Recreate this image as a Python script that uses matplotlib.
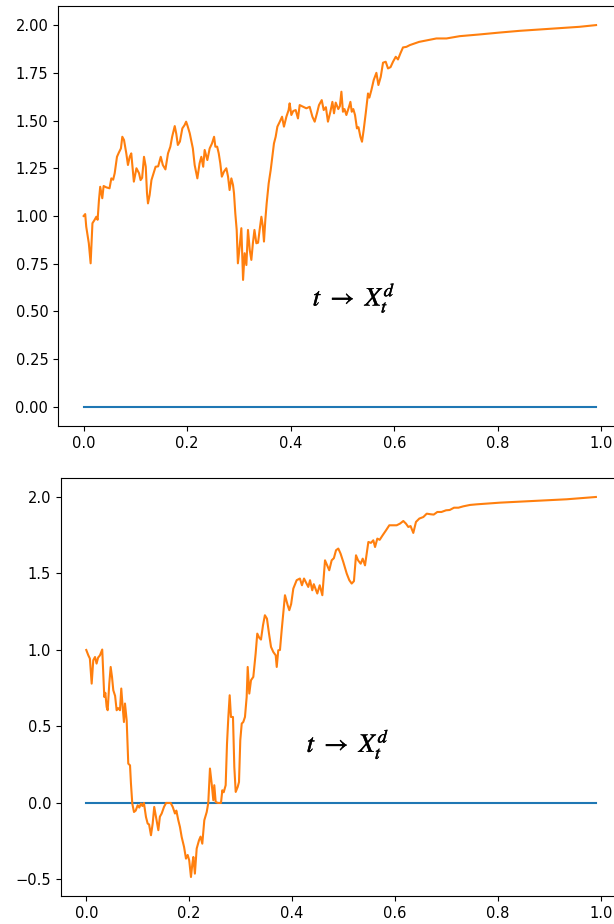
import numpy as np
import matplotlib.pyplot as plt
import matplotlib.patheffects as pe

plt.rcParams['mathtext.fontset'] = 'stix'
plt.rcParams['font.size'] = 10.5

# trajectoire 1 (t, X_t)
t1 = [0.000, 0.003, 0.005, 0.010, 0.0135, 0.017, 0.021, 0.0245, 0.027, 0.0296,
      0.032, 0.036, 0.0386, 0.0438, 0.050, 0.0535, 0.057, 0.060, 0.0644, 0.068,
      0.072, 0.0747, 0.078, 0.0824, 0.0856, 0.089, 0.092, 0.095, 0.097, 0.102,
      0.107, 0.110, 0.113, 0.1166, 0.120, 0.1224, 0.1243, 0.1275, 0.131, 0.134,
      0.139, 0.144, 0.149, 0.153, 0.158, 0.163, 0.1675, 0.171, 0.176, 0.179,
      0.182, 0.186, 0.1907, 0.195, 0.198, 0.201, 0.205, 0.211, 0.2145, 0.2197,
      0.224, 0.2274, 0.231, 0.2338, 0.239, 0.2435, 0.248, 0.252, 0.2545, 0.258,
      0.261, 0.264, 0.267, 0.271, 0.2757, 0.279, 0.282, 0.2854, 0.2886, 0.2905,
      0.293, 0.2957, 0.298, 0.3014, 0.3047, 0.308, 0.311, 0.3144, 0.3175, 0.321,
      0.324, 0.327, 0.330, 0.3337, 0.337, 0.340, 0.3434, 0.346, 0.3484, 0.351,
      0.3536, 0.3575, 0.3614, 0.3646, 0.3677, 0.371, 0.3743, 0.379, 0.3833, 0.387,
      0.3917, 0.396, 0.398, 0.4013, 0.405, 0.4097, 0.4141, 0.4174, 0.4303, 0.4367,
      0.442, 0.4464, 0.4508, 0.4547, 0.460, 0.4638, 0.468, 0.472, 0.4767, 0.4806,
      0.4837, 0.487, 0.492, 0.495, 0.498, 0.501, 0.504, 0.5076, 0.5127, 0.5154,
      0.518, 0.521, 0.5243, 0.528, 0.531, 0.5347, 0.5378, 0.541, 0.545, 0.5494,
      0.552, 0.556, 0.5604, 0.5656, 0.5695, 0.574, 0.5784, 0.5836, 0.588, 0.593,
      0.5977, 0.603, 0.6073, 0.612, 0.617, 0.6236, 0.630, 0.6396, 0.648, 0.665,
      0.6815, 0.701, 0.7266, 0.765, 0.804, 0.8425, 0.881, 0.920, 0.958, 0.990]
x1 = [1.00, 1.01, 0.944, 0.857, 0.752, 0.962, 0.979, 0.996, 0.98, 1.084,
      1.153, 1.093, 1.157, 1.15, 1.145, 1.197, 1.19, 1.224, 1.31, 1.332,
      1.354, 1.415, 1.398, 1.328, 1.267, 1.31, 1.328, 1.241, 1.18, 1.25,
      1.224, 1.188, 1.2, 1.31, 1.258, 1.119, 1.066, 1.11, 1.188, 1.215,
      1.258, 1.26, 1.31, 1.267, 1.244, 1.328, 1.363, 1.415, 1.471, 1.43,
      1.372, 1.39, 1.459, 1.476, 1.494, 1.47, 1.433, 1.354, 1.267, 1.197,
      1.276, 1.31, 1.258, 1.346, 1.293, 1.354, 1.38, 1.415, 1.363, 1.363,
      1.328, 1.276, 1.206, 1.232, 1.25, 1.206, 1.136, 1.197, 1.162, 1.119,
      1.014, 0.927, 0.752, 0.839, 0.936, 0.665, 0.805, 0.743, 0.927, 0.82,
      0.77, 0.857, 0.927, 0.857, 0.86, 0.927, 0.996, 0.95, 0.866, 0.979,
      1.066, 1.171, 1.241, 1.31, 1.38, 1.415, 1.468, 1.494, 1.52, 1.468,
      1.52, 1.555, 1.59, 1.529, 1.55, 1.555, 1.511, 1.581, 1.564, 1.572,
      1.52, 1.494, 1.538, 1.581, 1.607, 1.555, 1.57, 1.494, 1.546, 1.598,
      1.538, 1.594, 1.56, 1.575, 1.651, 1.546, 1.56, 1.529, 1.572, 1.598,
      1.546, 1.56, 1.529, 1.459, 1.465, 1.415, 1.389, 1.45, 1.538, 1.642,
      1.62, 1.66, 1.712, 1.75, 1.686, 1.729, 1.803, 1.808, 1.773, 1.78,
      1.808, 1.834, 1.82, 1.852, 1.883, 1.886, 1.895, 1.904, 1.912, 1.921,
      1.93, 1.93, 1.942, 1.951, 1.961, 1.97, 1.977, 1.984, 1.991, 2.0]

# trajectoire 2 (t, X_t)
t2 = [0.000, 0.004, 0.007, 0.0105, 0.0136, 0.017, 0.020, 0.023, 0.0266, 0.031,
      0.033, 0.035, 0.037, 0.0396, 0.0416, 0.0447, 0.0474, 0.050, 0.0525, 0.056,
      0.059, 0.062, 0.0655, 0.068, 0.0707, 0.0732, 0.0752, 0.0785, 0.0816, 0.085,
      0.0868, 0.0894, 0.0927, 0.096, 0.0999, 0.103, 0.1063, 0.109, 0.112, 0.116,
      0.1193, 0.122, 0.1257, 0.129, 0.132, 0.1354, 0.140, 0.143, 0.1465, 0.151,
      0.155, 0.160, 0.164, 0.168, 0.1723, 0.175, 0.1788, 0.182, 0.1853, 0.190,
      0.1937, 0.197, 0.200, 0.2034, 0.206, 0.208, 0.211, 0.2145, 0.219, 0.222,
      0.2254, 0.2293, 0.234, 0.237, 0.2403, 0.2436, 0.2468, 0.2487, 0.2514, 0.256,
      0.2617, 0.2643, 0.267, 0.2708, 0.2734, 0.276, 0.2786, 0.2811, 0.285, 0.2876,
      0.2903, 0.2942, 0.2967, 0.2992, 0.302, 0.305, 0.3083, 0.3116, 0.3136, 0.3167,
      0.320, 0.3245, 0.329, 0.3322, 0.336, 0.3394, 0.3433, 0.347, 0.351, 0.355,
      0.3589, 0.3633, 0.368, 0.370, 0.373, 0.3763, 0.3796, 0.3827, 0.386, 0.3913,
      0.3944, 0.398, 0.4022, 0.4087, 0.415, 0.419, 0.423, 0.427, 0.4313, 0.4347,
      0.439, 0.442, 0.4488, 0.4535, 0.4586, 0.4638, 0.467, 0.472, 0.4767, 0.481,
      0.4852, 0.4896, 0.494, 0.4993, 0.506, 0.511, 0.5156, 0.520, 0.524, 0.528,
      0.5331, 0.537, 0.5415, 0.5448, 0.548, 0.553, 0.5576, 0.561, 0.5654, 0.570,
      0.5758, 0.5823, 0.5887, 0.5965, 0.603, 0.6095, 0.6159, 0.621, 0.6256, 0.630,
      0.6353, 0.6405, 0.647, 0.6548, 0.6614, 0.6692, 0.675, 0.682, 0.690, 0.6989,
      0.706, 0.7144, 0.723, 0.7325, 0.7455, 0.7585, 0.8038, 0.8685, 0.9333, 0.990]
x2 = [1.00, 0.965, 0.944, 0.78, 0.933, 0.954, 0.911, 0.95, 0.965, 1.003,
      0.846, 0.693, 0.72, 0.627, 0.606, 0.78, 0.889, 0.824, 0.737, 0.70,
      0.606, 0.62, 0.606, 0.748, 0.627, 0.529, 0.65, 0.54, 0.257, 0.246,
      0.127, -0.004, -0.059, -0.05, -0.015, -0.03, -0.004, -0.02, 0.0, -0.092,
      -0.135, -0.14, -0.211, -0.135, -0.026, -0.092, -0.178, -0.09, -0.069, -0.026,
      0.0, 0.0, 0.0, -0.026, -0.069, -0.05, -0.113, -0.157, -0.222, -0.288,
      -0.364, -0.34, -0.375, -0.484, -0.40, -0.353, -0.462, -0.298, -0.244, -0.22,
      -0.266, -0.113, -0.059, 0.0, 0.225, 0.127, 0.018, 0.116, 0.006, 0.0,
      0.0, 0.083, 0.07, 0.116, 0.388, 0.562, 0.704, 0.562, 0.562, 0.235,
      0.072, 0.105, 0.137, 0.41, 0.519, 0.529, 0.562, 0.693, 0.889, 0.715,
      0.802, 0.824, 0.976, 1.107, 1.08, 1.068, 1.161, 1.227, 1.205, 1.107,
      1.02, 0.987, 0.965, 0.889, 0.998, 1.0, 1.129, 1.238, 1.358, 1.292,
      1.26, 1.30, 1.401, 1.456, 1.467, 1.423, 1.467, 1.44, 1.412, 1.456,
      1.39, 1.43, 1.369, 1.423, 1.358, 1.586, 1.56, 1.521, 1.586, 1.60,
      1.652, 1.663, 1.63, 1.575, 1.499, 1.456, 1.434, 1.45, 1.619, 1.586,
      1.564, 1.597, 1.553, 1.63, 1.706, 1.70, 1.717, 1.673, 1.728, 1.72,
      1.75, 1.782, 1.815, 1.815, 1.815, 1.826, 1.843, 1.826, 1.804, 1.81,
      1.765, 1.837, 1.859, 1.869, 1.891, 1.887, 1.885, 1.902, 1.902, 1.913,
      1.915, 1.93, 1.93, 1.939, 1.948, 1.952, 1.963, 1.974, 1.985, 2.0]

label = r'$t\ \rightarrow\ X_t^d$'

fig = plt.figure(figsize=(6.14, 9.24), dpi=100)

# les axes debordent a droite comme dans la capture d'origine
ax1 = fig.add_axes([0.0945, 0.539, 0.918, 0.4545])
ax2 = fig.add_axes([0.099, 0.0303, 0.913, 0.4524])

for ax, t, x, pos in [(ax1, t1, x1, (0.4425, 0.53)), (ax2, t2, x2, (0.428, 0.333))]:
    ax.plot([t[0], t[-1]], [0, 0])
    ax.plot(t, x)
    ax.text(pos[0], pos[1], label, fontsize=19, ha='left', va='baseline',
            path_effects=[pe.withStroke(linewidth=0.3, foreground='black')])

ax1.set_yticks(np.arange(0, 2.01, 0.25))
ax2.set_yticks([-0.5, 0.0, 0.5, 1.0, 1.5, 2.0])

fig.savefig('out.png', dpi=100)
